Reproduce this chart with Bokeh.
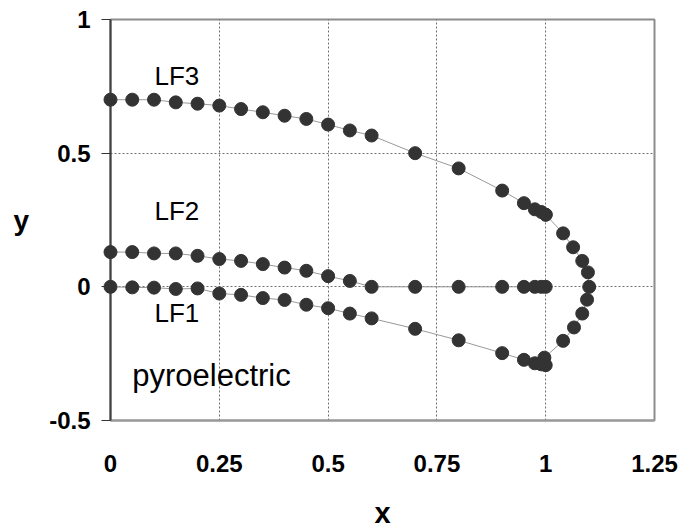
from bokeh.plotting import figure
from bokeh.models import Range1d, FixedTicker, Label
from bokeh.embed import file_html
from bokeh.resources import INLINE

# axis ticks
x_ticks = [0, 0.25, 0.5, 0.75, 1, 1.25]
x_tick_labels = ["0", "0.25", "0.5", "0.75", "1", "1.25"]
y_ticks = [-0.5, 0, 0.5, 1]
y_tick_labels = ["-0.5", "0", "0.5", "1"]

# shared abscissa of the three branches
branch_x = [0, 0.05, 0.1, 0.15, 0.2, 0.25, 0.3, 0.35, 0.4, 0.45, 0.5, 0.55, 0.6,
            0.7, 0.8, 0.9, 0.95, 0.975, 0.99, 1.0]
lf3_y = [0.70, 0.70, 0.70, 0.69, 0.685, 0.678, 0.665, 0.653, 0.64, 0.628, 0.607,
         0.585, 0.566, 0.50, 0.443, 0.36, 0.313, 0.29, 0.28, 0.27]
lf2_y = [0.13, 0.13, 0.125, 0.125, 0.116, 0.104, 0.097, 0.085, 0.072, 0.06, 0.04,
         0.022, 0.0, 0.0, 0.0, 0.0, 0.0, 0.0, 0.0, 0.0]
lf1_y = [0.0, -0.002, -0.003, -0.008, -0.006, -0.025, -0.03, -0.042, -0.049, -0.067,
         -0.08, -0.1, -0.118, -0.157, -0.2, -0.248, -0.273, -0.286, -0.29, -0.293]

# closing arc joining LF3 and LF1
nose_x = [1.0, 1.04, 1.063, 1.084, 1.097, 1.1, 1.095, 1.084, 1.065, 1.04, 0.997]
nose_y = [0.27, 0.2, 0.148, 0.097, 0.054, 0.0, -0.048, -0.1, -0.152, -0.202, -0.265]

# annotations: (text, x, y, font size)
annotations = [("LF3", 0.101, 0.79, "26px"),
               ("LF2", 0.101, 0.285, "26px"),
               ("LF1", 0.101, -0.097, "26px"),
               ("pyroelectric", 0.05, -0.33, "31px")]

FONT = "Liberation Sans"
DOT = "#333333"
LINE = "#999999"

p = figure(width=683, height=532,
           x_range=Range1d(0, 1.25), y_range=Range1d(-0.5, 1),
           output_backend="svg", toolbar_location=None,
           min_border_left=110, min_border_right=29,
           min_border_top=19, min_border_bottom=112)

p.background_fill_color = "white"
p.border_fill_color = "white"
p.outline_line_color = "#8c8c8c"
p.outline_line_width = 2

# grid
p.xgrid.ticker = FixedTicker(ticks=x_ticks)
p.ygrid.ticker = FixedTicker(ticks=y_ticks)
for g in (p.xgrid, p.ygrid):
    g.grid_line_color = "#707070"
    g.grid_line_dash = "2 2"
    g.grid_line_width = 1

# x axis
xa = p.xaxis[0]
xa.ticker = FixedTicker(ticks=x_ticks)
xa.major_label_overrides = {t: s for t, s in zip(x_ticks, x_tick_labels)}
xa.major_tick_out = 0
xa.major_tick_in = 0
xa.minor_tick_out = 0
xa.minor_tick_in = 0
xa.axis_line_color = "#9a9a9a"
xa.axis_line_width = 2
xa.major_label_standoff = 34
xa.major_label_text_font = FONT
xa.major_label_text_font_style = "bold"
xa.major_label_text_font_size = "24px"
xa.major_label_text_color = "black"
xa.major_label_text_line_height = 0.8
xa.axis_label = "x"
xa.axis_label_text_font = FONT
xa.axis_label_text_font_style = "bold"
xa.axis_label_text_font_size = "29px"
xa.axis_label_text_color = "black"
xa.axis_label_text_line_height = 0.8
xa.axis_label_standoff = 22

# y axis
ya = p.yaxis[0]
ya.ticker = FixedTicker(ticks=y_ticks)
ya.major_label_overrides = {t: s for t, s in zip(y_ticks, y_tick_labels)}
ya.major_tick_out = 9
ya.major_tick_in = 0
ya.minor_tick_out = 0
ya.minor_tick_in = 0
ya.major_tick_line_color = "#333333"
ya.major_tick_line_width = 1
ya.axis_line_color = "#404040"
ya.axis_line_width = 2
ya.major_label_standoff = 11
ya.major_label_text_font = FONT
ya.major_label_text_font_style = "bold"
ya.major_label_text_font_size = "24px"
ya.major_label_text_color = "black"
ya.axis_label = "y"
ya.axis_label_orientation = "horizontal"
ya.axis_label_text_font = FONT
ya.axis_label_text_font_style = "bold"
ya.axis_label_text_font_size = "28px"
ya.axis_label_text_color = "black"
ya.axis_label_standoff = 17

# connecting lines
for ys in (lf3_y, lf2_y, lf1_y):
    p.line(branch_x, ys, line_color=LINE, line_width=1)
p.line(nose_x, nose_y, line_color=LINE, line_width=1)

# markers
for ys in (lf3_y, lf2_y, lf1_y):
    p.scatter(branch_x, ys, size=13, fill_color=DOT, line_color=DOT, level="overlay")
p.scatter(nose_x, nose_y, size=13, fill_color=DOT, line_color=DOT, level="overlay")

for txt, lx, ly, fs in annotations:
    p.add_layout(Label(x=lx, y=ly, text=txt, text_font=FONT,
                       text_font_size=fs, text_color="black",
                       text_baseline="alphabetic", text_align="left"))

open("out.html", "w").write(file_html(p, INLINE))
